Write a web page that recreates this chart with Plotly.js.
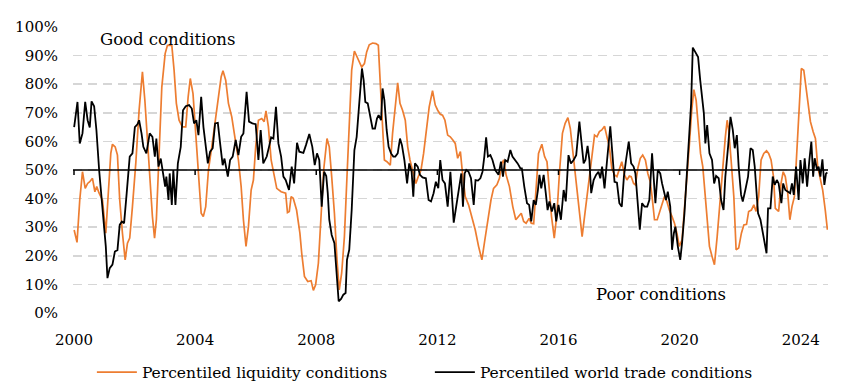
<!DOCTYPE html>
<html>
<head>
<meta charset="utf-8">
<script src="https://cdn.plot.ly/plotly-3.0.1.min.js"></script>
<style>html,body{margin:0;padding:0;background:#fff;}#chart{width:855px;height:391px;}</style>
</head>
<body>
<div id="chart"></div>
<script>
// Percentiled liquidity conditions (decimal year, %)
const liqYears = [2000.005,2000.10,2000.19,2000.28,2000.37,2000.45,2000.52,2000.61,2000.69,2000.75,2000.83,2000.94,2001.05,2001.14,2001.215,2001.27,2001.36,2001.435,2001.51,2001.60,2001.69,2001.765,2001.84,2001.93,2002.04,2002.15,2002.26,2002.34,2002.425,2002.51,2002.59,2002.66,2002.72,2002.81,2002.90,2003.01,2003.085,2003.23,2003.305,2003.38,2003.47,2003.58,2003.69,2003.77,2003.84,2003.93,2004.02,2004.11,
2004.20,2004.27,2004.35,2004.44,2004.55,2004.66,2004.77,2004.86,2004.92,2005.01,2005.10,2005.21,2005.32,2005.43,2005.52,2005.595,2005.68,2005.76,2005.85,2005.925,2006.00,2006.09,2006.20,2006.28,2006.34,2006.42,2006.51,2006.62,2006.695,2006.84,2006.99,2007.05,2007.11,2007.17,2007.24,2007.35,2007.46,2007.52,2007.61,2007.72,2007.83,2007.905,2007.98,2008.07,2008.16,2008.245,
2008.355,2008.43,2008.51,2008.60,2008.685,2008.76,2008.84,2008.93,2009.015,2009.09,2009.17,2009.26,2009.345,2009.42,2009.50,2009.59,2009.665,2009.75,2009.86,2009.97,2010.05,2010.115,2010.19,2010.25,2010.335,2010.445,2010.52,2010.61,2010.69,2010.765,2010.85,2010.94,2011.02,2011.095,2011.18,2011.29,2011.37,2011.46,2011.545,2011.63,2011.73,2011.84,2011.93,2012.01,2012.095,2012.17,2012.25,2012.34,2012.425,
2012.51,2012.59,2012.67,2012.76,2012.83,2012.92,2013.03,2013.14,2013.25,2013.36,2013.47,2013.56,2013.66,2013.77,2013.856,2013.966,2014.05,2014.13,2014.19,2014.27,2014.38,2014.49,2014.59,2014.68,2014.77,2014.85,2014.93,2015.03,2015.10,2015.18,2015.26,2015.34,2015.45,2015.54,2015.62,2015.69,2015.77,2015.86,2015.95,2016.03,2016.13,2016.22,2016.31,2016.39,2016.50,2016.585,
2016.64,2016.72,2016.78,2016.86,2016.94,2017.02,2017.11,2017.19,2017.27,2017.35,2017.43,2017.52,2017.60,2017.68,2017.76,2017.85,2017.93,2018.01,2018.09,2018.18,2018.26,2018.34,2018.40,2018.48,2018.54,2018.62,2018.70,2018.78,2018.87,2018.95,2019.03,2019.09,2019.17,2019.26,2019.33,2019.41,2019.50,2019.58,2019.66,2019.75,2019.83,2019.91,2019.99,2020.08,2020.16,2020.24,2020.325,2020.40,2020.47,2020.545,2020.62,2020.69,2020.765,
2020.83,2020.91,2020.985,2021.07,2021.15,2021.24,2021.33,2021.425,2021.51,2021.57,2021.62,2021.70,2021.79,2021.865,2021.95,2022.04,2022.12,2022.21,2022.28,2022.37,2022.45,2022.525,2022.61,2022.69,2022.78,2022.87,2022.94,2023.02,2023.10,2023.16,2023.27,2023.35,2023.42,2023.49,2023.57,2023.64,2023.71,2023.79,2023.88,2023.955,2024.02,2024.10,2024.175,2024.24,2024.32,2024.41,2024.485,2024.56,2024.65,2024.725,2024.81,2024.88];
const liqValues = [29,24.7,39.5,49.4,43.6,45.3,45.9,47.1,42.4,44.2,41.9,39.5,27.9,41.9,55.8,59,58.1,55.2,39.5,27.9,18.6,24.4,26.2,37.2,52.3,70.9,84.3,74.4,60.5,44.2,33.7,26.2,32.6,55.8,79,90.7,93.6,93.6,84.9,73.3,67.4,65.1,65.1,75.6,82,76.7,64,48.8,
34.9,33.7,37.2,50,58.1,67.4,76.7,82.6,84.7,81.4,73.3,68.6,61,53.5,44.2,32.6,23.3,30.2,43,46.5,58.1,67.4,68,66.9,70.7,65.1,53.5,47.7,43.6,42.4,41.9,35.1,35.5,40.7,40.1,36,27.9,20.9,12.8,11,11.3,7.9,9.9,17.4,32.6,50,
61,58.1,47.7,34.9,18.6,8.1,14,26.7,47.7,65.1,84.9,91.6,89.5,87.4,86,87.2,91.3,93.8,94.4,94.2,93.6,80.2,64,53.5,52.9,51.7,62.8,73.3,80.5,73.3,70.9,67.4,58.1,53.5,50,45.3,47.7,50,55.8,64,72.1,77.7,72.7,70.9,69.5,69.2,67.4,62.2,61.6,
60.5,59.3,54.1,56.4,48.8,40.7,37.8,33.7,29.1,23.3,18.6,25,32.6,39.5,43.6,44.8,47.1,52.3,53.5,48.3,44.2,37.2,32.6,33.7,34.9,32,31.4,33.1,31.4,31.2,41.9,55.8,59,54.7,52.9,43,33.7,26.2,34.9,48.8,62.8,66.3,68.3,64.5,54.1,46.5,
41.9,32.6,26.7,33.7,40.7,46.5,53.5,62.2,61.6,63.4,64,65.3,61.6,58.1,50.6,48.3,47.7,50,52.9,48.3,46.5,47.9,47.7,45.3,44.8,50.6,54.1,55.2,53.5,48.8,45.9,40.7,32.6,32.6,34.9,37.2,40.7,39,36,33.7,31.4,27.9,23.3,25.6,36,47.7,59.3,70.9,78.1,74.4,64,55.8,51.2,
43,32.6,23.3,19.8,16.9,26.7,38.4,53.5,61.6,67.4,64,53.5,40.7,22.1,22.7,27.9,30.8,31,35.5,36,37.8,35.5,40.7,53.5,55.8,56.7,55.8,53.5,47.7,36.6,35.5,45.3,49.4,47.7,41.9,32.6,37.2,40.7,58.1,72.1,85.5,84.9,79.1,73.3,66.9,63.4,61,51.2,46.5,43,36,29.1];

// Percentiled world trade conditions (decimal year, %)
const tradeYears = [2000.005,2000.115,2000.19,2000.28,2000.37,2000.45,2000.52,2000.58,2000.665,2000.74,2000.83,2000.92,2000.995,2001.05,2001.105,2001.18,2001.27,2001.35,2001.435,2001.51,2001.58,2001.655,2001.74,2001.84,2001.93,2002.01,2002.095,2002.15,2002.23,2002.29,2002.39,2002.50,2002.59,2002.67,2002.72,2002.79,2002.865,2002.94,2003.01,2003.05,2003.12,2003.16,2003.23,2003.28,2003.35,2003.43,2003.525,2003.60,2003.69,2003.80,2003.89,2003.965,2004.04,2004.11,
2004.20,2004.275,2004.35,2004.42,2004.495,2004.58,2004.66,2004.75,2004.825,2004.91,2004.97,2005.08,2005.155,2005.24,2005.34,2005.43,2005.52,2005.595,2005.70,2005.78,2005.89,2006.00,2006.09,2006.165,2006.25,2006.365,2006.44,2006.51,2006.585,2006.67,2006.75,2006.84,2006.915,2006.99,2007.10,2007.19,2007.27,2007.365,2007.44,2007.575,2007.66,2007.77,2007.87,2007.95,2008.025,2008.10,2008.18,2008.26,
2008.33,2008.38,2008.43,2008.51,2008.60,2008.66,2008.74,2008.82,2008.895,2008.97,2009.015,2009.09,2009.17,2009.26,2009.335,2009.42,2009.51,2009.565,2009.62,2009.70,2009.775,2009.86,2009.94,2010.005,2010.06,2010.14,2010.19,2010.25,2010.325,2010.39,2010.47,2010.545,2010.61,2010.69,2010.765,2010.83,2010.91,2011.00,2011.07,2011.15,2011.205,2011.26,2011.35,2011.425,2011.51,2011.62,2011.71,2011.79,2011.875,2011.95,2012.03,2012.095,2012.17,2012.25,2012.34,2012.43,
2012.54,2012.61,2012.70,2012.79,2012.845,2012.90,2012.955,2013.03,2013.11,2013.20,2013.26,2013.34,2013.42,2013.49,2013.55,2013.61,2013.67,2013.75,2013.82,2013.91,2014.02,2014.10,2014.165,2014.24,2014.32,2014.41,2014.48,2014.57,2014.65,2014.74,2014.79,2014.87,2014.96,2015.03,2015.10,2015.18,2015.25,2015.32,2015.37,2015.43,2015.51,2015.58,2015.64,2015.70,2015.78,2015.86,2015.925,2016.00,2016.08,2016.17,2016.24,2016.33,2016.41,2016.50,2016.585,
2016.69,2016.76,2016.83,2016.89,2016.96,2017.02,2017.08,2017.16,2017.24,2017.32,2017.38,2017.44,2017.52,2017.61,2017.71,2017.77,2017.85,2017.93,2018.01,2018.09,2018.16,2018.23,2018.32,2018.40,2018.48,2018.54,2018.62,2018.685,2018.76,2018.84,2018.93,2019.00,2019.09,2019.15,2019.20,2019.28,2019.36,2019.42,2019.50,2019.55,2019.61,2019.69,2019.75,2019.81,2019.86,2019.94,2020.02,2020.08,2020.16,2020.24,2020.325,2020.38,2020.435,2020.52,2020.61,2020.68,2020.74,
2020.80,2020.85,2020.91,2020.985,2021.07,2021.14,2021.205,2021.29,2021.37,2021.45,2021.51,2021.60,2021.68,2021.755,2021.82,2021.89,2021.95,2022.03,2022.085,2022.17,2022.26,2022.34,2022.415,2022.48,2022.54,2022.59,2022.67,2022.745,2022.81,2022.87,2022.92,2023.00,2023.075,2023.14,2023.21,2023.27,2023.36,2023.42,2023.49,2023.57,2023.65,2023.71,2023.77,2023.845,2023.93,2023.99,2024.065,2024.13,2024.21,2024.285,2024.35,2024.41,2024.46,2024.54,2024.59,2024.65,2024.715,2024.78,2024.835,2024.88];
const tradeValues = [65,73.8,59.3,62.8,73.8,67.4,64.9,74,72.3,64,50,38.4,30.2,23.3,12.2,15.7,16.9,21.5,22,30.8,32,31.4,41.9,54.7,55.8,65,66,67.4,62.8,58.1,55.8,62.8,61.6,54.7,61,51.2,54,48.8,44.2,47.7,39.5,48.8,37.8,50,37.8,52.3,58.1,70.9,72.3,72.7,71.5,66.3,67.4,62.2,
75.6,65,58,52.3,56.4,57.6,66.3,66.5,59.3,51.7,54,47.7,53.5,54.7,60.5,55.2,61.6,62.8,77.3,66.9,66.3,66,53.5,64,52.3,54.7,58.1,61.4,61,72.1,59.3,54.7,47.7,46.5,43,51.2,45.3,59.5,56.4,56,58.7,62.6,58.1,51.7,55.8,53.5,37.2,49.4,
47.9,41.9,32.6,27.3,24.4,15.1,4.1,4.9,6.4,7,18.6,22.1,36,57,61.6,73.3,85.5,81.4,73.8,73.3,68.6,64.5,64.5,68,69.2,67.4,78.5,74.4,64,58.1,55.8,54.7,54.7,55.8,61,58.7,53.5,45.3,52.3,49.4,40.7,52.3,51.2,48.3,47.4,47.1,39.5,39,41.9,45.9,43.6,53.5,46.5,45.3,37.2,49.4,
31.6,36.6,43,48.8,37.2,48.8,50,49.4,47.1,37.8,46.5,46.3,47.1,49.4,54.7,61.4,54.7,55.2,53.5,50,48.3,52.9,47.7,53.5,52.9,57,54.7,53.5,52.3,50.6,50.6,44.2,38.4,37.8,32,39.5,37.8,43,48.3,43.6,48.3,41.9,36,39,35.5,38.4,32,37.8,32.6,43,39,55.2,52.3,53.5,55.2,
66.9,60.5,52.3,53.5,58.4,53.5,41.9,46.5,48.3,49.4,47.1,51.2,43.6,54.1,65.3,57,45.9,45.6,38.4,37.2,47.7,53.5,59.9,52.3,51.2,48.8,37.2,29.1,38.4,37.2,37.2,39.5,55.8,47.7,38.4,50,48.8,45.3,41.9,39.5,42.4,37.2,22.1,27.9,30.2,23.3,18.6,24.4,34.9,48.8,61.6,73.3,92.8,91.3,89.5,81.4,75.6,
69.8,59.3,65.7,55.8,53.5,45.3,47.9,47.1,39.5,36,47.7,58.1,68.6,64,57.6,62.2,51.2,41.3,39,43,47.7,57.6,57,51.2,40.7,34.9,32.6,27.9,23.3,20.9,36.6,36.6,47.7,44.8,46.5,45.3,38.4,45.3,43,42.4,41.9,45.3,41.3,51.2,39.5,53.5,45.3,54.1,44.2,53.5,59.9,47.7,54.1,50,51.2,47.7,53.7,44.8,48.8,49.1];

const xTickVals = [2000,2004,2008,2012,2016,2020,2024];
const xTickText = ['2000','2004','2008','2012','2016','2020','2024'];
const seriesNames = ['Percentiled liquidity conditions','Percentiled world trade conditions'];

const FONT = 'DejaVu Serif, Georgia, serif';

const traces = [
  {x: liqYears, y: liqValues, type:'scatter', mode:'lines', name: seriesNames[0],
   line:{color:'#ED7D31', width:1.7}},
  {x: tradeYears, y: tradeValues, type:'scatter', mode:'lines', name: seriesNames[1],
   line:{color:'#000000', width:1.8}}
];

const tickShapes = xTickVals.map(t => ({
  type:'line', xref:'x', yref:'y', ysizemode:'pixel', yanchor:50,
  x0:t, x1:t, y0:0, y1:-5, line:{color:'#000', width:1.5}, layer:'above'
}));

const layout = {
  width:855, height:391,
  margin:{l:73, r:27, t:27, b:78, autoexpand:false},
  paper_bgcolor:'#fff', plot_bgcolor:'#fff',
  font:{family:FONT, size:14, color:'#000'},
  showlegend:true,
  legend:{orientation:'h', x:0.025, xanchor:'left', y:-0.208, yanchor:'middle',
          font:{family:FONT, size:15.5, color:'#000'}, entrywidth:283, entrywidthmode:'pixels',
          itemwidth:40},
  xaxis:{range:[1999.967, 2024.9], tickvals:xTickVals, ticktext:xTickText,
         showgrid:false, zeroline:false, showline:false, ticks:'',
         ticklabelstandoff:16, tickfont:{family:FONT, size:15}},
  yaxis:{range:[0,100], dtick:10, tick0:0, ticksuffix:'%', showgrid:true,
         gridcolor:'#d6d6d6', gridwidth:1.6, griddash:'9px,6px',
         zeroline:false, showline:false, ticks:'', ticklabelstandoff:14,
         tickfont:{family:FONT, size:15}},
  shapes:[
    {type:'line', xref:'paper', yref:'y', x0:0, x1:1, y0:50, y1:50,
     line:{color:'#000', width:1.6}, layer:'above'}
  ].concat(tickShapes),
  annotations:[
    {text:'Good conditions', xref:'paper', yref:'paper', x:0.125, y:0.955,
     showarrow:false, xanchor:'center', yanchor:'middle', font:{family:FONT, size:16.5}},
    {text:'Poor conditions', xref:'paper', yref:'paper', x:0.779, y:0.064,
     showarrow:false, xanchor:'center', yanchor:'middle', font:{family:FONT, size:16.5}}
  ]
};

Plotly.newPlot('chart', traces, layout, {displayModeBar:false, staticPlot:true});
</script>
</body>
</html>
